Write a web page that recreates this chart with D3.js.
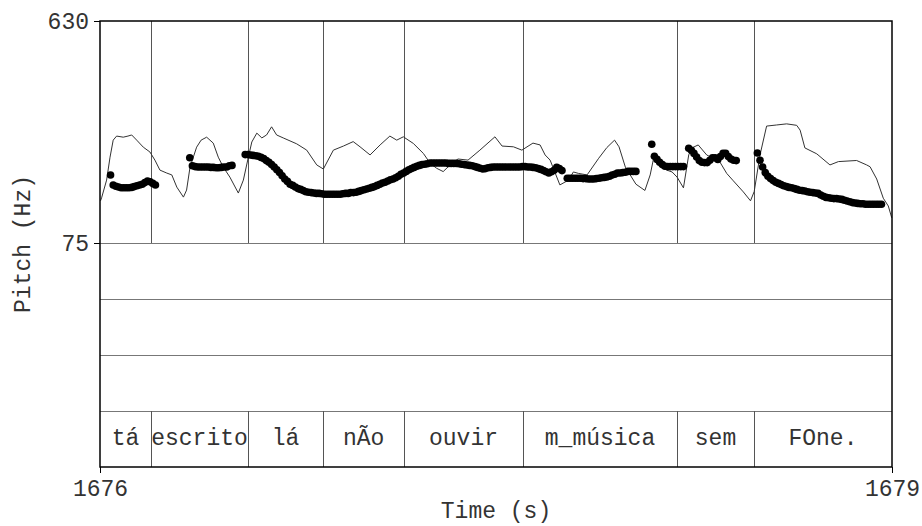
<!DOCTYPE html>
<html>
<head>
<meta charset="utf-8">
<script src="https://cdn.jsdelivr.net/npm/d3@7"></script>
<style>
  html, body { margin: 0; padding: 0; background: #fff; }
  svg { display: block; }
  text { font-family: "Liberation Mono", "Courier New", monospace; fill: #333; }
</style>
</head>
<body>
<div id="chart"></div>
<script>
// time range and tier
const timeRange = [1676, 1679];
const tierBounds = [1676, 1676.193, 1676.561, 1676.845, 1677.152, 1677.602, 1678.186, 1678.477, 1679];
const tierLabels = ["tá", "escrito", "lá", "nÃo", "ouvir", "m_música", "sem", "FOne."];

// pitch (Hz), one value every 10 ms from each segment start
const pitchRange = [75, 630];
const pitchStep = 0.01;
const pitchStarts = [1676.04, 1676.34, 1676.55, 1677.77, 1678.09, 1678.23, 1678.49];
const pitchSeg1 = [245,220,217,215,213,213,213,213,214,216,218,220,222,226,230,228,224,220];
const pitchSeg2 = [288,268,266,265,265,265,265,265,264,264,263,263,264,265,265,268,269];
const pitchSeg3 = [296,296,295,294,293,292,289,286,281,277,271,265,258,251,243,235,229,222,219,215,
  211,209,206,203,202,201,200,199,199,198,197,197,197,197,197,197,197,198,199,199,
  201,201,202,204,206,208,210,212,214,216,219,222,225,227,230,233,235,238,242,247,
  250,254,258,261,264,267,269,271,272,273,275,275,275,275,275,275,275,274,274,274,
  274,273,272,271,270,269,268,266,264,262,260,261,263,264,265,265,265,265,265,265,
  265,265,265,265,265,266,266,265,265,264,263,261,259,256,253,250,253,257,264,261,256];
const pitchSeg4 = [237,237,237,237,237,237,236,236,235,235,235,236,237,238,239,240,242,245,247,250,250,251,252,254,254,254,254];
const pitchSeg5 = [322,292,284,277,271,267,266,266,266,266,266,266,266];
const pitchSeg6 = [312,307,299,290,281,277,276,276,282,288,288,284,291,299,299,291,285,282,281];
const pitchSeg7 = [300,282,265,251,242,236,231,227,224,221,218,216,214,213,211,209,207,206,205,203,
  202,201,200,199,195,192,189,188,187,186,186,185,184,182,180,178,176,175,174,173,
  173,172,172,172,172,172,172,172];
const pitchSegs = [pitchSeg1, pitchSeg2, pitchSeg3, pitchSeg4, pitchSeg5, pitchSeg6, pitchSeg7];

// intensity (dB), drawn on its own unlabeled scale
const intensityRange = [30, 90];
const intensityTimes = [1676.002,1676.006,1676.025,1676.038,1676.050,1676.063,1676.088,1676.106,1676.120,1676.139,
  1676.164,1676.189,1676.208,1676.227,1676.253,1676.272,1676.291,1676.316,1676.328,1676.341,
  1676.366,1676.383,1676.404,1676.429,1676.448,1676.467,1676.492,1676.524,1676.543,1676.562,
  1676.575,1676.594,1676.613,1676.631,1676.650,1676.669,1676.694,1676.745,1676.783,1676.821,
  1676.846,1676.884,1676.922,1676.959,1676.985,1677.023,1677.061,1677.098,1677.124,1677.149,
  1677.187,1677.225,1677.250,1677.275,1677.300,1677.326,1677.356,1677.394,1677.439,1677.496,
  1677.523,1677.566,1677.598,1677.640,1677.667,1677.686,1677.705,1677.742,1677.775,1677.793,
  1677.813,1677.845,1677.889,1677.920,1677.949,1677.966,1677.990,1678.030,1678.064,1678.084,
  1678.097,1678.116,1678.147,1678.167,1678.186,1678.210,1678.230,1678.242,1678.266,1678.298,
  1678.348,1678.374,1678.399,1678.437,1678.464,1678.478,1678.500,1678.525,1678.563,1678.601,
  1678.639,1678.652,1678.670,1678.715,1678.765,1678.797,1678.866,1678.904,1678.917,1678.942,
  1678.967,1678.986,1678.999];
const intensityDb = [41.4,42.2,47.0,53.2,57.8,58.9,58.6,58.9,59.2,57.8,
  55.9,54.6,52.4,49.7,48.9,48.4,45.1,42.4,44.3,50.5,
  55.9,57.8,58.6,57.0,53.2,50.5,47.8,43.5,47.0,53.2,
  57.3,59.7,58.4,59.2,61.4,59.2,58.4,56.8,55.1,51.1,
  50.0,55.1,56.2,57.4,56.0,53.8,56.5,58.9,57.8,58.7,
  56.9,54.2,51.6,50.2,49.3,51.1,52.7,52.4,55.1,58.7,
  56.2,56.0,55.1,57.0,56.5,53.8,52.4,45.7,47.0,49.2,
  48.8,48.4,52.9,55.8,57.8,56.0,50.5,45.9,44.2,48.4,
  52.9,51.1,49.7,49.2,47.8,44.9,53.8,55.7,56.5,53.8,
  51.9,48.8,46.8,43.8,41.4,43.9,53.8,61.6,61.9,62.2,
  61.8,60.5,55.7,54.1,51.1,52.0,52.3,51.1,50.6,47.3,
  42.1,40.0,36.8];

const W = 922, H = 526;
const plotL = 100, plotR = 892, plotT = 21, pitchBottom = 243;
const tierRows = [243, 299, 355, 411, 467];
const fontSize = 23;

const svg = d3.select("#chart").append("svg")
  .attr("width", W).attr("height", H);

const x = d3.scaleLinear().domain(timeRange).range([plotL, plotR]);
const yPitch = d3.scaleLinear().domain(pitchRange).range([pitchBottom, plotT]);
const yInt = d3.scaleLinear().domain(intensityRange).range([pitchBottom, plotT]);

// empty tier rows
svg.append("g").selectAll("line")
  .data(tierRows.slice(0, 4))
  .enter().append("line")
  .attr("x1", plotL).attr("x2", plotR)
  .attr("y1", d => d + 0.5).attr("y2", d => d + 0.5)
  .attr("stroke", "#777").attr("stroke-width", 1);

// interval boundaries, in the pitch panel and the text tier
const inner = tierBounds.slice(1, -1);
svg.append("g").selectAll("line")
  .data(inner)
  .enter().append("line")
  .attr("x1", d => Math.round(x(d)) + 0.5).attr("x2", d => Math.round(x(d)) + 0.5)
  .attr("y1", plotT).attr("y2", pitchBottom)
  .attr("stroke", "#555").attr("stroke-width", 1);
svg.append("g").selectAll("line")
  .data(inner)
  .enter().append("line")
  .attr("x1", d => Math.round(x(d)) + 0.5).attr("x2", d => Math.round(x(d)) + 0.5)
  .attr("y1", tierRows[3]).attr("y2", tierRows[4])
  .attr("stroke", "#555").attr("stroke-width", 1);

// interval labels
svg.append("g").selectAll("text")
  .data(tierLabels)
  .enter().append("text")
  .attr("x", (d, i) => (x(tierBounds[i]) + x(tierBounds[i + 1])) / 2)
  .attr("y", 445)
  .attr("text-anchor", "middle")
  .style("font-size", fontSize + "px")
  .text(d => d);

// intensity curve
const intensityPts = intensityTimes.map((t, i) => [t, intensityDb[i]]);
svg.append("path")
  .datum(intensityPts)
  .attr("fill", "none")
  .attr("stroke", "#333")
  .attr("stroke-width", 1)
  .attr("d", d3.line().x(d => x(d[0])).y(d => yInt(d[1])));

// pitch speckles
const pitchPts = [];
pitchSegs.forEach((seg, s) => {
  seg.forEach((v, i) => pitchPts.push({ t: pitchStarts[s] + i * pitchStep, hz: v }));
});
svg.append("g").selectAll("circle")
  .data(pitchPts)
  .enter().append("circle")
  .attr("cx", d => x(d.t))
  .attr("cy", d => yPitch(d.hz))
  .attr("r", 3.8)
  .attr("fill", "#000");

// frame
svg.append("rect")
  .attr("x", plotL).attr("y", plotT)
  .attr("width", plotR - plotL).attr("height", tierRows[4] - plotT)
  .attr("fill", "none").attr("stroke", "#000").attr("stroke-width", 1.5);

// axes
const yAxis = d3.axisLeft(yPitch).tickValues(pitchRange).tickSize(6).tickPadding(5);
const gy = svg.append("g").attr("transform", `translate(${plotL},0)`).call(yAxis);
gy.select(".domain").remove();
gy.selectAll("line").attr("stroke", "#000");
gy.selectAll("text").style("font-size", fontSize + "px").attr("fill", "#333");
gy.attr("font-family", null);

const xAxis = d3.axisBottom(x).tickValues(timeRange).tickFormat(d3.format("d")).tickSize(6).tickPadding(7);
const gx = svg.append("g").attr("transform", `translate(0,${tierRows[4]})`).call(xAxis);
gx.select(".domain").remove();
gx.selectAll("line").attr("stroke", "#000");
gx.selectAll("text").style("font-size", fontSize + "px").attr("fill", "#333");
gx.attr("font-family", null);

// axis titles
svg.append("text")
  .attr("x", (plotL + plotR) / 2).attr("y", 518)
  .attr("text-anchor", "middle")
  .style("font-size", fontSize + "px")
  .text("Time (s)");

svg.append("text")
  .attr("transform", `translate(30,${(plotT + tierRows[4]) / 2}) rotate(-90)`)
  .attr("text-anchor", "middle")
  .style("font-size", fontSize + "px")
  .text("Pitch (Hz)");
</script>
</body>
</html>
